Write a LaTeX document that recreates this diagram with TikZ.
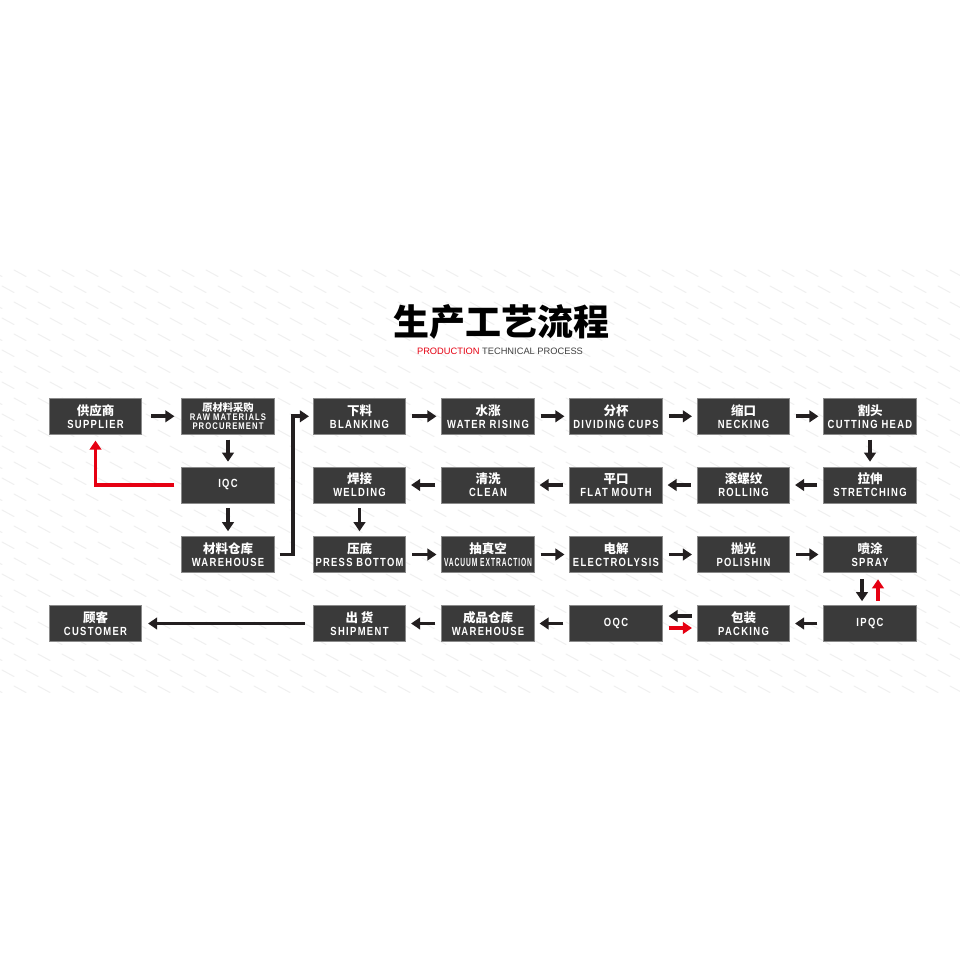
\documentclass[tikz,border=0pt]{standalone}
\usepackage{fontspec}
\usepackage{graphicx}
\setmainfont{Liberation Sans}
\newfontfamily\cjkf{Noto Sans CJK SC}
\newfontfamily\enf[LetterSpace=14]{Liberation Sans}
\usetikzlibrary{arrows.meta}
\definecolor{boxgray}{HTML}{3A3A3A}
\definecolor{boxline}{HTML}{8A8A8A}
\definecolor{arrblack}{HTML}{231F20}
\definecolor{arrred}{HTML}{E60012}
\newsavebox\fitbox
\newcommand\fitw[2]{\sbox\fitbox{#2}\ifdim\wd\fitbox>#1\resizebox{#1}{\height}{\usebox\fitbox}\else\usebox\fitbox\fi}
\newcommand\cnl[1]{{\cjkf\bfseries\fontsize{12.5}{13.5}\selectfont #1}}
\newcommand\enl[1]{{\enf\bfseries\fontsize{11.8}{13.5}\selectfont\fitw{88pt}{\scalebox{0.8}[1]{#1}}}}
\newcommand\twol[2]{\cnl{#1}\\[-0.5pt]\enl{#2}}
\tikzset{
  box/.style={draw=boxline, fill=boxgray, line width=0.6pt, minimum width=92.5pt, minimum height=36pt,
    inner sep=0pt, text=white, align=center, font=\fontsize{11}{13.5}\selectfont},
  arr/.style={draw=arrblack, line width=3.8pt, -{Triangle[length=9pt,width=11.5pt]},
    shorten <=6pt, shorten >=5pt},
  redarr/.style={arr, draw=arrred},
  tex/.style={draw=black!6, line width=1pt, line cap=round}
}
\begin{document}
\begin{tikzpicture}[x=1pt,y=-1pt]
\fill[white] (0,0) rectangle (960,960);
\useasboundingbox (0,0) rectangle (960,960);
% background texture
\foreach \r in {0,...,26}{
  \pgfmathsetmacro\off{mod(\r,2)*12}
  \foreach \c in {0,...,40}{
    \draw[tex] ({\c*24+\off-10},{270+\r*16}) -- ++(12,6.5);
  }
}
% title
\node[font=\cjkf\bfseries\fontsize{36}{36}\selectfont, inner sep=0pt] (title) at (501,322) {生产工艺流程};
\node[font=\fontsize{9.3}{10}\selectfont, text=black!75, inner sep=0pt] (sub) at (500,351) {\textcolor{arrred}{PRODUCTION} TECHNICAL PROCESS};
% row 1
\node[box] (sup) at (95.5,416.3) {\twol{供应商}{SUPPLIER}};
\node[box, font=\fontsize{9.6}{8.8}\selectfont] (raw) at (228,416.3) {{\cjkf\bfseries\fontsize{10.3}{8.8}\selectfont 原材料采购}\\{\enf\bfseries\fontsize{9.6}{8.8}\selectfont\scalebox{0.8}[1]{RAW MATERIALS}}\\{\enf\bfseries\fontsize{9.6}{8.8}\selectfont\scalebox{0.8}[1]{PROCUREMENT}}};
\node[box] (blank) at (359.5,416.3) {\twol{下料}{BLANKING}};
\node[box] (water) at (488,416.3) {\twol{水涨}{WATER RISING}};
\node[box] (divide) at (616,416.3) {\twol{分杯}{DIVIDING CUPS}};
\node[box] (neck) at (743.5,416.3) {\twol{缩口}{NECKING}};
\node[box] (cut) at (870,416.3) {\twol{割头}{CUTTING HEAD}};
% row 2
\node[box] (iqc) at (228,485) {\enl{IQC}};
\node[box] (weld) at (359.5,485) {\twol{焊接}{WELDING}};
\node[box] (clean) at (488,485) {\twol{清洗}{CLEAN}};
\node[box] (flat) at (616,485) {\twol{平口}{FLAT MOUTH}};
\node[box] (roll) at (743.5,485) {\twol{滚螺纹}{ROLLING}};
\node[box] (stretch) at (870,485) {\twol{拉伸}{STRETCHING}};
% row 3
\node[box] (wh) at (228,554.5) {\twol{材料仓库}{WAREHOUSE}};
\node[box] (press) at (359.5,554.5) {\twol{压底}{PRESS BOTTOM}};
\node[box] (vac) at (488,554.5) {\twol{抽真空}{VACUUM EXTRACTION}};
\node[box] (elec) at (616,554.5) {\twol{电解}{ELECTROLYSIS}};
\node[box] (pol) at (743.5,554.5) {\twol{抛光}{POLISHIN}};
\node[box] (spray) at (870,554.5) {\twol{喷涂}{SPRAY}};
% row 4
\node[box] (cust) at (95.5,623.5) {\twol{顾客}{CUSTOMER}};
\node[box] (ship) at (359.5,623.5) {\twol{出 货}{SHIPMENT}};
\node[box] (fwh) at (488,623.5) {\twol{成品仓库}{WAREHOUSE}};
\node[box] (oqc) at (616,623.5) {\enl{OQC}};
\node[box] (pack) at (743.5,623.5) {\twol{包装}{PACKING}};
\node[box] (ipqc) at (870,623.5) {\enl{IPQC}};
% arrows row 1
\draw[arr, shorten <=9pt, shorten >=7pt] (sup) -- (raw);
\draw[arr] (blank) -- (water);
\draw[arr] (water) -- (divide);
\draw[arr] (divide) -- (neck);
\draw[arr] (neck) -- (cut);
% vertical
\draw[arr, shorten <=5pt, shorten >=5pt] (raw) -- (iqc);
\draw[arr, shorten <=5pt, shorten >=5pt] (iqc) -- (wh);
\draw[arr, shorten <=5pt, shorten >=5pt] (cut) -- (stretch);
\draw[arr, shorten <=5pt, shorten >=5pt] (weld) -- (press);
% elbow warehouse -> blanking
\draw[arr, shorten <=5pt, shorten >=4pt, line join=miter] (wh.east) -- ++(18.5,0) |- (blank.west);
% row 2 leftwards
\draw[arr] (stretch) -- (roll);
\draw[arr] (roll) -- (flat);
\draw[arr] (flat) -- (clean);
\draw[arr] (clean) -- (weld);
% row 3
\draw[arr] (press) -- (vac);
\draw[arr] (vac) -- (elec);
\draw[arr] (elec) -- (pol);
\draw[arr] (pol) -- (spray);
% spray <-> ipqc
\draw[arr, shorten <=6.5pt, shorten >=4pt] ([xshift=-8pt]spray.south) -- ([xshift=-8pt]ipqc.north);
\draw[redarr, shorten <=4pt, shorten >=6.5pt] ([xshift=8pt]ipqc.north) -- ([xshift=8pt]spray.south);
% row 4
\draw[arr] (ipqc) -- (pack);
\draw[arr, shorten <=5pt, shorten >=6pt] ([yshift=7.5pt]pack.west) -- ([yshift=7.5pt]oqc.east);
\draw[redarr, shorten <=6pt, shorten >=5pt] ([yshift=-4.5pt]oqc.east) -- ([yshift=-4.5pt]pack.west);
\draw[arr] (oqc) -- (fwh);
\draw[arr] (fwh) -- (ship);
\draw[arr, shorten <=8pt, shorten >=6pt] (ship) -- (cust);
% red elbow IQC -> supplier
\draw[redarr, shorten <=7pt, shorten >=6pt, line join=miter] (iqc.west) -| (sup.south);
\end{tikzpicture}
\end{document}
